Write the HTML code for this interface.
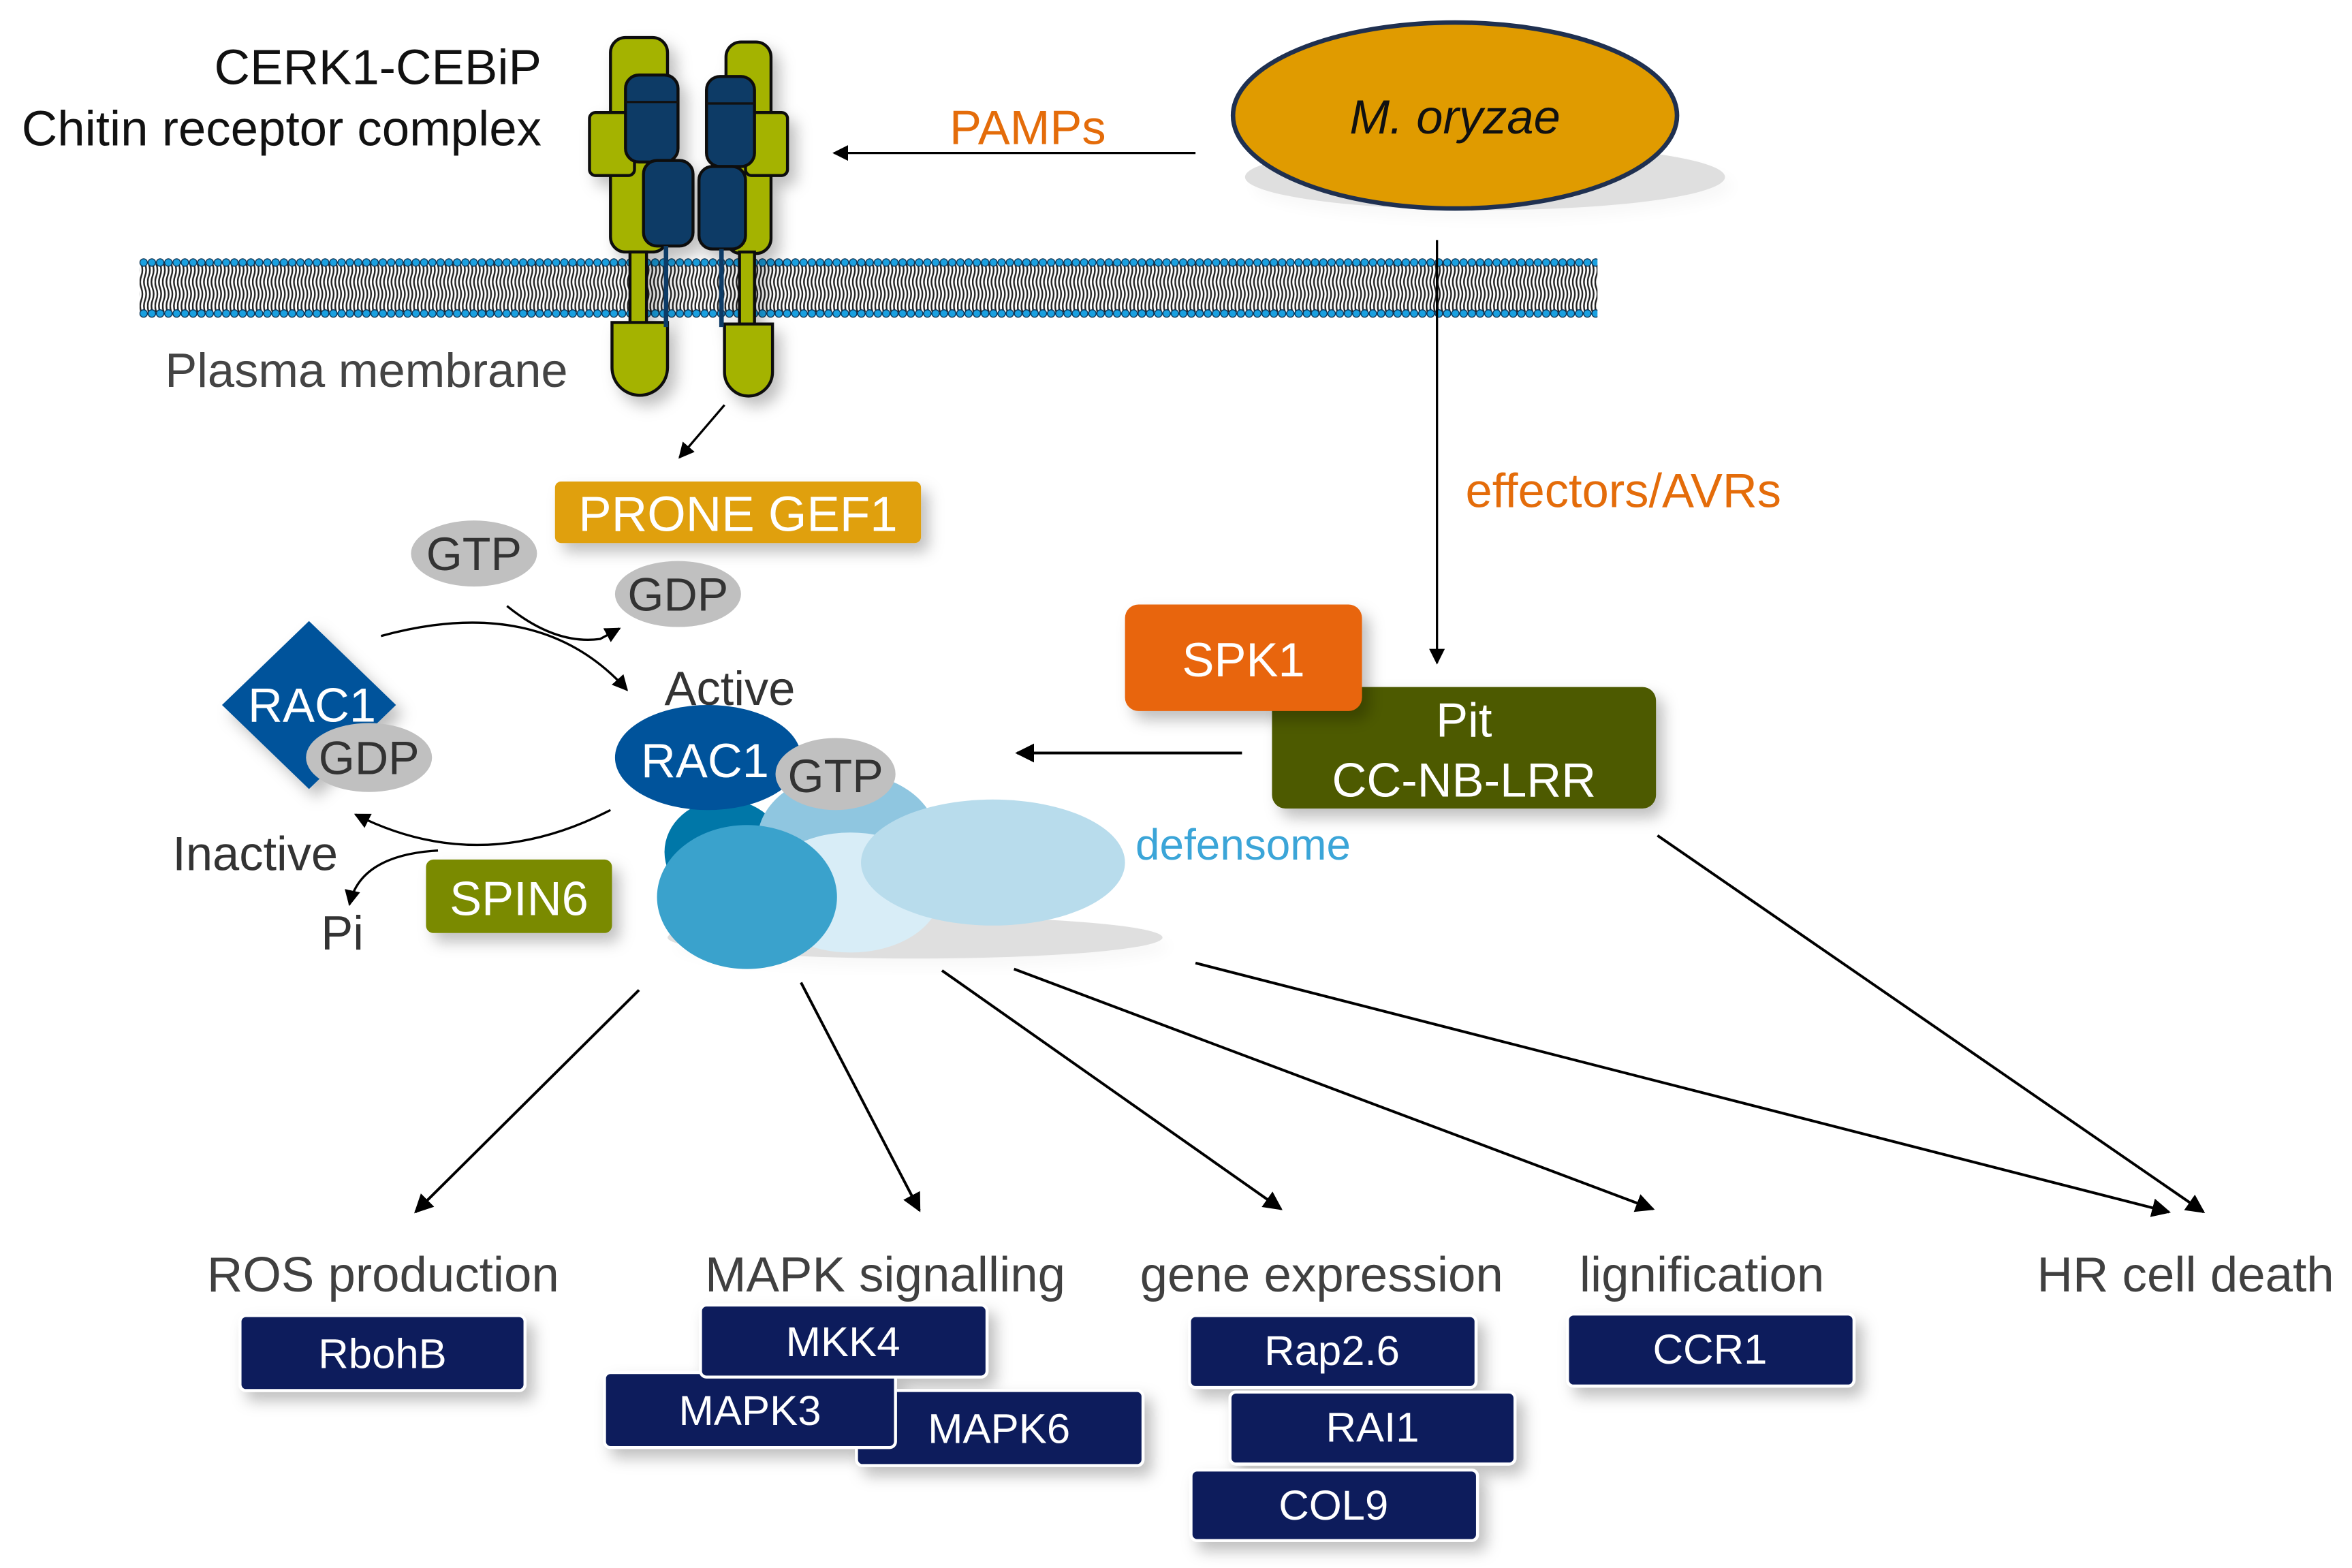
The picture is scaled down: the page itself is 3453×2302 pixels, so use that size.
<!DOCTYPE html>
<html><head><meta charset="utf-8"><style>html,body{margin:0;padding:0;background:#fff}svg{display:block}</style></head>
<body>
<svg width="3453" height="2302" viewBox="0 0 1568 1045.3" preserveAspectRatio="none" xmlns="http://www.w3.org/2000/svg" font-family="Liberation Sans, Arial, sans-serif">
<defs>
<marker id="ah" viewBox="0 0 10 10" refX="9" refY="5" markerWidth="7" markerHeight="7" orient="auto"><path d="M0,0 L10,5 L0,10 z" fill="#000"/></marker>
<pattern id="lip" width="5" height="40" patternUnits="userSpaceOnUse">
<path d="M1.2,4 q1.5,4 0,8 q-1.5,4 0,8 M3.7,4 q1.5,4 0,8 q-1.5,4 0,8 M1.2,20 q1.5,4 0,8 q-1.5,4 0,8 M3.7,20 q1.5,4 0,8 q-1.5,4 0,8" stroke="#222" stroke-width="1.1" fill="none"/>
</pattern>
<pattern id="dots" width="5.5" height="40" patternUnits="userSpaceOnUse">
<circle cx="2.75" cy="3" r="2.5" fill="#1aa0e0" stroke="#0b3050" stroke-width="0.6"/>
<circle cx="2.75" cy="37" r="2.5" fill="#1aa0e0" stroke="#0b3050" stroke-width="0.6"/>
</pattern>
<filter id="sh" x="-20%" y="-20%" width="150%" height="160%"><feDropShadow dx="5" dy="6" stdDeviation="5" flood-color="#000" flood-opacity="0.25"/></filter>
</defs>

<!-- membrane -->
<g transform="translate(93,172)">
<rect x="0" y="0" width="972" height="40" fill="#fff"/>
<rect x="0" y="0" width="972" height="40" fill="url(#lip)"/>
<rect x="0" y="0" width="972" height="40" fill="url(#dots)"/>
</g>

<!-- receptor -->
<g stroke="#111" stroke-width="2" filter="url(#sh)">
<rect x="407" y="25" width="38" height="143" rx="10" fill="#a4b300"/>
<rect x="484" y="28" width="30" height="141" rx="10" fill="#a4b300"/>
<rect x="393" y="75" width="30" height="42" rx="4" fill="#a4b300"/>
<rect x="497" y="75" width="28" height="42" rx="4" fill="#a4b300"/>
<rect x="420" y="168" width="11" height="52" fill="#a4b300"/>
<rect x="493" y="168" width="10" height="52" fill="#a4b300"/>
<path d="M408,215 h37 v30 a18.5,18.5 0 0 1 -37,0 z" fill="#a4b300"/>
<path d="M483,216 h32 v32 a16,16 0 0 1 -32,0 z" fill="#a4b300"/>
<rect x="417" y="50" width="35" height="58" rx="9" fill="#0a3a66"/>
<rect x="471" y="51" width="32" height="60" rx="9" fill="#0a3a66"/>
<rect x="429" y="107" width="33" height="57" rx="9" fill="#0a3a66"/>
<rect x="466" y="111" width="31" height="55" rx="9" fill="#0a3a66"/>
<line x1="444" y1="164" x2="444" y2="218" stroke="#0a3a66" stroke-width="3"/>
<line x1="481" y1="166" x2="481" y2="218" stroke="#0a3a66" stroke-width="3"/>
</g>
<line x1="417" y1="68" x2="452" y2="68" stroke="#111" stroke-width="1.5"/>
<line x1="471" y1="69" x2="503" y2="69" stroke="#111" stroke-width="1.5"/>

<g font-size="33" fill="#111">
<text x="361" y="56" text-anchor="end">CERK1-CEBiP</text>
<text x="361" y="97" text-anchor="end">Chitin receptor complex</text>
</g>
<text x="110" y="258" font-size="32" fill="#444">Plasma membrane</text>

<!-- M. oryzae -->
<ellipse cx="990" cy="118" rx="160" ry="22" fill="#000" opacity="0.12" filter="url(#sh)"/>
<ellipse cx="970" cy="77" rx="148" ry="62" fill="#e09b00" stroke="#1f3050" stroke-width="3"/>
<text x="970" y="89" font-size="32" font-style="italic" text-anchor="middle" fill="#111">M. oryzae</text>
<text x="633" y="96" font-size="32" fill="#e46c0a">PAMPs</text>
<line x1="797" y1="102" x2="556" y2="102" stroke="#000" stroke-width="1.5" marker-end="url(#ah)"/>
<line x1="958" y1="160" x2="958" y2="442" stroke="#000" stroke-width="1.5" marker-end="url(#ah)"/>
<text x="977" y="338" font-size="32" fill="#e46c0a">effectors/AVRs</text>
<line x1="483" y1="270" x2="453" y2="305" stroke="#000" stroke-width="1.5" marker-end="url(#ah)"/>

<!-- PRONE GEF1 -->
<rect x="370" y="321" width="244" height="41" rx="4" fill="#e0a010" filter="url(#sh)"/>
<text x="492" y="354" font-size="33" text-anchor="middle" fill="#fff">PRONE GEF1</text>

<g font-size="31" fill="#333" text-anchor="middle">
<ellipse cx="316" cy="369" rx="42" ry="22" fill="#c0c0c0"/>
<text x="316" y="380">GTP</text>
<ellipse cx="452" cy="396" rx="42" ry="22" fill="#c0c0c0"/>
<text x="452" y="407">GDP</text>
</g>
<path d="M254,424 Q360,395 418,460" stroke="#000" stroke-width="1.5" fill="none" marker-end="url(#ah)"/>
<path d="M338,404 Q370,430 400,426 L413,419" stroke="#000" stroke-width="1.5" fill="none" marker-end="url(#ah)"/>

<!-- inactive RAC1 -->
<polygon points="206,414 264,470 206,526 148,470" fill="#00539b" filter="url(#sh)"/>
<text x="208" y="481" font-size="32" fill="#fff" text-anchor="middle">RAC1</text>
<ellipse cx="246" cy="505" rx="42" ry="23" fill="#c0c0c0"/>
<text x="246" y="516" font-size="31" fill="#333" text-anchor="middle">GDP</text>

<path d="M407,540 Q320,585 237,543" stroke="#000" stroke-width="1.5" fill="none" marker-end="url(#ah)"/>
<path d="M292,567 Q240,570 233,603" stroke="#000" stroke-width="1.5" fill="none" marker-end="url(#ah)"/>
<text x="115" y="580" font-size="32" fill="#333">Inactive</text>
<text x="214" y="633" font-size="32" fill="#333">Pi</text>
<rect x="284" y="573" width="124" height="49" rx="5" fill="#7a8a00" filter="url(#sh)"/>
<text x="346" y="610" font-size="32" fill="#fff" text-anchor="middle">SPIN6</text>

<!-- defensome -->
<ellipse cx="610" cy="625" rx="165" ry="14" fill="#000" opacity="0.12" filter="url(#sh)"/>
<ellipse cx="483" cy="568" rx="40" ry="35" fill="#0077a8"/>
<ellipse cx="565" cy="560" rx="60" ry="45" fill="#8fc6e0"/>
<ellipse cx="567" cy="595" rx="60" ry="40" fill="#d8edf7"/>
<ellipse cx="498" cy="598" rx="60" ry="48" fill="#3aa2cc"/>
<ellipse cx="662" cy="575" rx="88" ry="42" fill="#b8dcec"/>
<text x="443" y="470" font-size="32" fill="#333">Active</text>
<ellipse cx="472" cy="505" rx="62" ry="35" fill="#00539b"/>
<text x="470" y="518" font-size="32" fill="#fff" text-anchor="middle">RAC1</text>
<ellipse cx="557" cy="516" rx="40" ry="24" fill="#c0c0c0"/>
<text x="557" y="528" font-size="31" fill="#333" text-anchor="middle">GTP</text>
<text x="757" y="573" font-size="29" fill="#3ba5d8">defensome</text>

<!-- SPK1 / Pit -->
<rect x="848" y="458" width="256" height="81" rx="9" fill="#4d5a00" filter="url(#sh)"/>
<rect x="750" y="403" width="158" height="71" rx="9" fill="#e8650f" filter="url(#sh)"/>
<text x="829" y="451" font-size="32" fill="#fff" text-anchor="middle">SPK1</text>
<text x="976" y="491" font-size="32" fill="#fff" text-anchor="middle">Pit</text>
<text x="976" y="531" font-size="32" fill="#fff" text-anchor="middle">CC-NB-LRR</text>
<line x1="828" y1="502" x2="678" y2="502" stroke="#000" stroke-width="1.8" marker-end="url(#ah)"/>

<!-- output arrows -->
<g stroke="#000" stroke-width="1.8" marker-end="url(#ah)">
<line x1="426" y1="660" x2="277" y2="808"/>
<line x1="534" y1="655" x2="613" y2="807"/>
<line x1="628" y1="647" x2="854" y2="806"/>
<line x1="676" y1="646" x2="1102" y2="806"/>
<line x1="797" y1="642" x2="1446" y2="808"/>
<line x1="1105" y1="557" x2="1469" y2="808"/>
</g>

<g font-size="33" fill="#404040">
<text x="138" y="861">ROS production</text>
<text x="470" y="861">MAPK signalling</text>
<text x="760" y="861">gene expression</text>
<text x="1053" y="861">lignification</text>
<text x="1358" y="861">HR cell death</text>
</g>

<g fill="#0a1f5c" stroke="#fff" stroke-width="2" filter="url(#sh)">
<rect x="160" y="877" width="190" height="50" rx="4"/>
<rect x="571" y="927" width="191" height="50" rx="4"/>
<rect x="403" y="915" width="194" height="50" rx="4"/>
<rect x="467" y="870" width="191" height="48" rx="4"/>
<rect x="793" y="877" width="191" height="48" rx="4"/>
<rect x="820" y="928" width="190" height="48" rx="4"/>
<rect x="794" y="980" width="191" height="47" rx="4"/>
<rect x="1045" y="876" width="191" height="48" rx="4"/>
</g>
<g font-size="28" fill="#fff" text-anchor="middle">
<text x="255" y="912">RbohB</text>
<text x="666" y="962">MAPK6</text>
<text x="500" y="950">MAPK3</text>
<text x="562" y="904">MKK4</text>
<text x="888" y="910">Rap2.6</text>
<text x="915" y="961">RAI1</text>
<text x="889" y="1013">COL9</text>
<text x="1140" y="909">CCR1</text>
</g>
</svg>
</body></html>
